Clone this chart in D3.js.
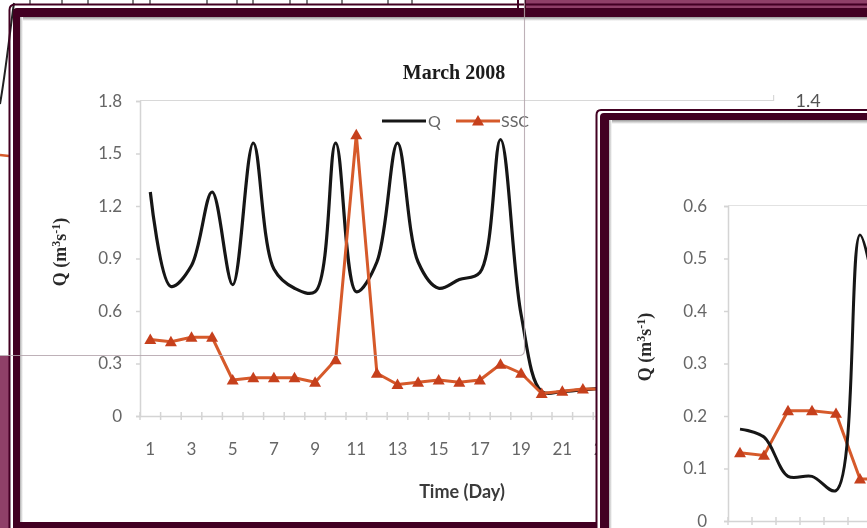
<!DOCTYPE html>
<html><head><meta charset="utf-8">
<script src="https://cdn.jsdelivr.net/npm/d3@7"></script>
<style>html,body{margin:0;padding:0;background:#fff;overflow:hidden}</style>
</head><body>
<svg id="c" width="867" height="528"></svg>
<script>
// ---- March 2008: daily discharge (Q) and suspended sediment (SSC) ----
const marchDays = d3.range(1, 32);
const qDays = d3.range(1, 24);
const qValues = [1.28, 0.74, 0.86, 1.28, 0.75, 1.56, 0.84, 0.73, 0.71, 1.56, 0.71, 0.88,
                 1.56, 0.88, 0.73, 0.78, 0.82, 1.58, 0.58, 0.14, 0.14, 0.15, 0.16];
const sscDays = d3.range(1, 25);
const sscValues = [0.34, 0.33, 0.35, 0.35, 0.16, 0.17, 0.17, 0.17, 0.15, 0.25, 1.25, 0.19,
                   0.14, 0.15, 0.16, 0.15, 0.16, 0.23, 0.19, 0.10, 0.11, 0.12, 0.12, 0.13];
const qTicks = [0, 0.3, 0.6, 0.9, 1.2, 1.5, 1.8];
const sscTicks = [0, 0.2, 0.4, 0.6, 0.8, 1.0, 1.2, 1.4];
const seriesNames = ["Q", "SSC"];

// ---- second event panel ----
const panel2Days = d3.range(1, 8);
const panel2Q = [0.175, 0.16, 0.085, 0.085, 0.058, 0.545, 0.33];
const panel2SSC = [0.13, 0.125, 0.21, 0.21, 0.205, 0.08, 0.08];
const panel2Ticks = [0, 0.1, 0.2, 0.3, 0.4, 0.5, 0.6];

// ---- colours ----
const maroon = "#430020", pink = "#8f3f68", axisGrey = "#d4d4d4", labelGrey = "#666666";
const qColor = "#161616", sscLine = "#d65a2c", sscMark = "#c63f1e";
const tickFont = "Lato, 'Open Sans', sans-serif";

const svg = d3.select("#c");
const defs = svg.append("defs");
defs.append("filter").attr("id", "soft").attr("x", "-5%").attr("y", "-5%").attr("width", "110%").attr("height", "110%")
  .append("feGaussianBlur").attr("stdDeviation", 0.75);
const shade = defs.append("linearGradient").attr("id", "shadeDown").attr("x1", 0).attr("y1", 0).attr("x2", 0).attr("y2", 1);
shade.append("stop").attr("offset", 0).attr("stop-color", "#9a9a9a");
shade.append("stop").attr("offset", 1).attr("stop-color", "#ffffff");
const shadeR = defs.append("linearGradient").attr("id", "shadeRight").attr("x1", 0).attr("y1", 0).attr("x2", 1).attr("y2", 0);
shadeR.append("stop").attr("offset", 0).attr("stop-color", "#b0b0b0");
shadeR.append("stop").attr("offset", 1).attr("stop-color", "#ffffff");
defs.append("clipPath").attr("id", "mainClip").append("rect").attr("x", 20).attr("y", 17).attr("width", 847).attr("height", 505);
defs.append("clipPath").attr("id", "p2Clip").append("rect").attr("x", 609).attr("y", 120).attr("width", 258).attr("height", 408);

const root = svg.append("g").attr("filter", "url(#soft)");
root.append("rect").attr("width", 867).attr("height", 528).attr("fill", "#fff");

// backdrop pieces from the surrounding page
root.append("rect").attr("x", 526).attr("y", 0).attr("width", 341).attr("height", 9).attr("fill", pink);
root.append("rect").attr("x", 0).attr("y", 356).attr("width", 10).attr("height", 172).attr("fill", pink);
[30, 62, 88, 133, 150, 207, 237, 253, 290, 307, 342, 388, 412].forEach(x => {
  root.append("line").attr("x1", x).attr("x2", x).attr("y1", 0).attr("y2", 5)
    .attr("stroke", "#555").attr("stroke-width", 1.5);
});
root.append("path").attr("d", "M14,3 C10,30 6,70 0,104").attr("fill", "none").attr("stroke", "#222").attr("stroke-width", 2);
root.append("line").attr("x1", 0).attr("x2", 9).attr("y1", 155).attr("y2", 156).attr("stroke", sscLine).attr("stroke-width", 2.5);
[518, 525].forEach(x => root.append("line").attr("x1", x).attr("x2", x).attr("y1", 0).attr("y2", 9)
  .attr("stroke", maroon).attr("stroke-width", 2));

// main window frame
root.append("path").attr("d", "M867,4.5 L15,4.5 Q9.5,4.5 9.5,10 L9.5,528")
  .attr("fill", "none").attr("stroke", maroon).attr("stroke-width", 2);
root.append("path").attr("d", "M867,8 L17,8 Q13,8 13,12 L13,528 L20,528 L20,17 L867,17 Z").attr("fill", maroon);
root.append("rect").attr("x", 20).attr("y", 17).attr("width", 847).attr("height", 4).attr("fill", "url(#shadeDown)");
root.append("rect").attr("x", 20).attr("y", 17).attr("width", 3).attr("height", 505).attr("fill", "url(#shadeRight)");

// ---------------- main chart ----------------
const main = root.append("g").attr("clip-path", "url(#mainClip)");
const xMain = d3.scaleBand().domain(marchDays).range([140, 140 + 31 * 20.6]);
const bw = xMain.bandwidth();
const cx = d => xMain(d) + bw / 2;
const yQ = d3.scaleLinear().domain([0, 1.8]).range([416, 101]);
const ySSC = d3.scaleLinear().domain([0, 1.4]).range([416, 101]);
const plotRight = xMain.range()[1];

// plot frame top edge and secondary axis stub
main.append("path").attr("d", `M140,100.5 L${plotRight - 5},100.5 L${plotRight - 5},95`)
  .attr("fill", "none").attr("stroke", "#d8d8d8").attr("stroke-width", 1.2);

// left axis
const yAxisG = main.append("g").attr("transform", "translate(140,0)")
  .call(d3.axisLeft(yQ).tickValues(qTicks).tickSize(4).tickPadding(14)
    .tickFormat(d => d === 0 ? "0" : d3.format(".1f")(d)));
yAxisG.select(".domain").attr("stroke", axisGrey).attr("stroke-width", 1.5);
yAxisG.selectAll(".tick line").attr("stroke", axisGrey).attr("stroke-width", 1.5);
yAxisG.selectAll("text").attr("fill", labelGrey).attr("font-family", tickFont).attr("font-size", 17);

// right (SSC) axis, only its top label shows above the overlapping panel
const y2AxisG = main.append("g").attr("transform", `translate(${plotRight},0)`)
  .call(d3.axisRight(ySSC).tickValues(sscTicks).tickSize(0).tickPadding(17)
    .tickFormat(d => d === 0 ? "0" : d3.format(".1f")(d)));
y2AxisG.select(".domain").remove();
y2AxisG.selectAll("text").attr("fill", "#555").attr("font-family", tickFont).attr("font-size", 18);

// bottom axis: labels on odd days, cross ticks on category edges
const xAxisG = main.append("g").attr("transform", "translate(0,416)")
  .call(d3.axisBottom(xMain).tickValues(marchDays).tickSize(0).tickPadding(27)
    .tickFormat(d => d % 2 === 1 ? String(d) : ""));
xAxisG.select(".domain").attr("stroke", axisGrey).attr("stroke-width", 1.5);
xAxisG.selectAll("text").attr("fill", labelGrey).attr("font-family", tickFont).attr("font-size", 17);
main.append("g").selectAll("line").data(marchDays.concat([32])).join("line")
  .attr("x1", d => d === 32 ? plotRight : xMain(d)).attr("x2", d => d === 32 ? plotRight : xMain(d))
  .attr("y1", 412).attr("y2", 420).attr("stroke", axisGrey).attr("stroke-width", 1.5);

// axis titles and chart title
main.append("text").attr("x", 454).attr("y", 79).attr("text-anchor", "middle")
  .attr("font-family", "'Liberation Serif', 'Times New Roman', serif").attr("font-weight", "bold")
  .attr("font-size", 20).attr("fill", "#1a1a1a").text("March 2008");
main.append("text").attr("x", 462).attr("y", 498).attr("text-anchor", "middle")
  .attr("font-family", tickFont).attr("font-weight", "bold").attr("font-size", 18)
  .attr("fill", "#3a3a3a").text("Time (Day)");
const yTitle = main.append("text").attr("transform", "translate(66,252) rotate(-90)").attr("text-anchor", "middle")
  .attr("font-family", "'Liberation Serif', serif").attr("font-weight", "bold").attr("font-size", 18).attr("fill", "#2a2a2a");
yTitle.append("tspan").text("Q (m");
yTitle.append("tspan").attr("dy", -6).attr("font-size", 12).text("3");
yTitle.append("tspan").attr("dy", 6).text("s");
yTitle.append("tspan").attr("dy", -6).attr("font-size", 12).text("-1");
yTitle.append("tspan").attr("dy", 6).text(")");

// series
const qLine = d3.line().x((d, i) => cx(qDays[i])).y(d => yQ(d)).curve(d3.curveCatmullRom.alpha(0.5));
main.append("path").datum(qValues).attr("d", qLine).attr("fill", "none")
  .attr("stroke", qColor).attr("stroke-width", 3.2).attr("stroke-linejoin", "round");
const sscLineGen = d3.line().x((d, i) => cx(sscDays[i])).y(d => ySSC(d));
main.append("path").datum(sscValues).attr("d", sscLineGen).attr("fill", "none")
  .attr("stroke", sscLine).attr("stroke-width", 3).attr("stroke-linejoin", "round");
const tri = d3.symbol().type(d3.symbolTriangle).size(62);
main.append("g").selectAll("path").data(sscValues).join("path")
  .attr("transform", (d, i) => `translate(${cx(sscDays[i])},${ySSC(d) + 1})`)
  .attr("d", tri).attr("fill", sscMark);

// legend
const lg = main.append("g");
lg.append("line").attr("x1", 382).attr("x2", 426).attr("y1", 121).attr("y2", 121).attr("stroke", qColor).attr("stroke-width", 3.2);
lg.append("text").attr("x", 428).attr("y", 127).attr("font-family", tickFont).attr("font-size", 16).attr("fill", labelGrey).text(seriesNames[0]);
lg.append("line").attr("x1", 456).attr("x2", 500).attr("y1", 121).attr("y2", 121).attr("stroke", sscLine).attr("stroke-width", 3);
lg.append("path").attr("transform", "translate(478,122)").attr("d", tri).attr("fill", sscMark);
lg.append("text").attr("x", 501).attr("y", 127).attr("font-family", tickFont).attr("font-size", 16).attr("fill", labelGrey).text(seriesNames[1]);

// bottom edge of the main window
root.append("rect").attr("x", 13).attr("y", 522).attr("width", 590).attr("height", 6).attr("fill", maroon);

// ---------------- second panel (overlapping window) ----------------
root.append("rect").attr("x", 596).attr("y", 109).attr("width", 271).attr("height", 419).attr("fill", "#fff");
root.append("path").attr("d", "M867,110 L601,110 Q596.5,110 596.5,115 L596.5,528")
  .attr("fill", "none").attr("stroke", maroon).attr("stroke-width", 2);
root.append("path").attr("d", "M867,113 L604,113 Q600,113 600,117 L600,528 L609,528 L609,120 L867,120 Z").attr("fill", maroon);
root.append("rect").attr("x", 609).attr("y", 120).attr("width", 258).attr("height", 4).attr("fill", "url(#shadeDown)");
root.append("rect").attr("x", 609).attr("y", 120).attr("width", 3).attr("height", 408).attr("fill", "url(#shadeRight)");

const p2 = root.append("g").attr("clip-path", "url(#p2Clip)");
const xP2 = d3.scaleBand().domain(marchDays).range([728, 728 + 31 * 24]);
const cx2 = d => xP2(d) + xP2.bandwidth() / 2;
const yP2 = d3.scaleLinear().domain([0, 0.6]).range([521, 206]);

p2.append("line").attr("x1", 728).attr("x2", 867).attr("y1", 205.5).attr("y2", 205.5).attr("stroke", "#e2e2e2").attr("stroke-width", 1.2);
const p2y = p2.append("g").attr("transform", "translate(728,0)")
  .call(d3.axisLeft(yP2).tickValues(panel2Ticks).tickSize(4).tickPadding(17)
    .tickFormat(d => d === 0 ? "0" : d3.format(".1f")(d)));
p2y.select(".domain").attr("stroke", axisGrey).attr("stroke-width", 1.5);
p2y.selectAll(".tick line").attr("stroke", axisGrey).attr("stroke-width", 1.5);
p2y.selectAll("text").attr("fill", labelGrey).attr("font-family", tickFont).attr("font-size", 17);
const p2x = p2.append("g").attr("transform", "translate(0,521)")
  .call(d3.axisBottom(xP2).tickValues([]).tickSize(0));
p2x.select(".domain").attr("stroke", axisGrey).attr("stroke-width", 1.5);
p2.append("g").selectAll("line").data(marchDays).join("line")
  .attr("x1", d => xP2(d)).attr("x2", d => xP2(d)).attr("y1", 517).attr("y2", 525)
  .attr("stroke", axisGrey).attr("stroke-width", 1.5);
const p2Title = p2.append("text").attr("transform", "translate(651,347) rotate(-90)").attr("text-anchor", "middle")
  .attr("font-family", "'Liberation Serif', serif").attr("font-weight", "bold").attr("font-size", 18).attr("fill", "#2a2a2a");
p2Title.append("tspan").text("Q (m");
p2Title.append("tspan").attr("dy", -6).attr("font-size", 12).text("3");
p2Title.append("tspan").attr("dy", 6).text("s");
p2Title.append("tspan").attr("dy", -6).attr("font-size", 12).text("-1");
p2Title.append("tspan").attr("dy", 6).text(")");

const p2QLine = d3.line().x((d, i) => cx2(panel2Days[i])).y(d => yP2(d)).curve(d3.curveCatmullRom.alpha(0.5));
const p2SLine = d3.line().x((d, i) => cx2(panel2Days[i])).y(d => yP2(d));
p2.append("path").datum(panel2SSC).attr("d", p2SLine).attr("fill", "none")
  .attr("stroke", sscLine).attr("stroke-width", 3);
p2.append("g").selectAll("path").data(panel2SSC).join("path")
  .attr("transform", (d, i) => `translate(${cx2(panel2Days[i])},${yP2(d) + 1})`)
  .attr("d", tri).attr("fill", sscMark);
p2.append("path").datum(panel2Q).attr("d", p2QLine).attr("fill", "none")
  .attr("stroke", qColor).attr("stroke-width", 3);

// faint outline of a window edge lying across the page
root.append("path").attr("d", "M0,355.5 L519,355.5 Q524.5,355.5 524.5,350 L524.5,0")
  .attr("fill", "none").attr("stroke", "#b3a3ab").attr("stroke-width", 1.1).attr("opacity", 0.85);
</script>
</body></html>
